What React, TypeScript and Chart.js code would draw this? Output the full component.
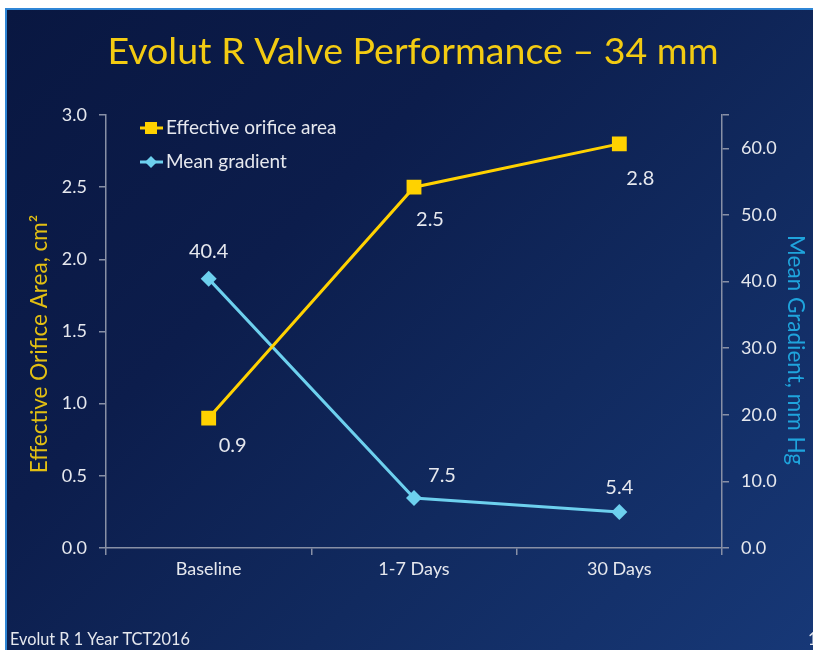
import React, { useEffect, useRef } from 'react';
import { Chart, registerables } from 'chart.js';

Chart.register(...registerables);

const titleText = 'Evolut R Valve Performance – 34 mm';
const footerText = 'Evolut R 1 Year TCT2016';
const categories = ['Baseline', '1-7 Days', '30 Days'];
const seriesNames = ['Effective orifice area', 'Mean gradient'];
const eoaValues = [0.9, 2.5, 2.8];
const gradientValues = [40.4, 7.5, 5.4];
const eoaLabels = ['0.9', '2.5', '2.8'];
const gradientLabels = ['40.4', '7.5', '5.4'];
const leftAxisTitle = 'Effective Orifice Area, cm²';
const rightAxisTitle = 'Mean Gradient, mm Hg';

const FONT = 'Lato, "Open Sans", sans-serif';
const YELLOW = '#ffd200';
const CYAN = '#6dd0ee';
const TITLE_YELLOW = '#f3cb12';
const AXIS_YELLOW = '#e2bf12';
const AXIS_CYAN = '#1fa4dc';
const TEXT = '#e6e8ee';
const AXIS_LINE = '#8890a6';

// label placement offsets (style only)
const eoaLabelOffsets = [[24, 27], [16, 32], [21, 35]];
const gradLabelOffsets = [[0, -27], [28, -22], [0, -24]];

const overlayPlugin = {
  id: 'overlay',
  afterDatasetsDraw(chart: any) {
    const ctx = chart.ctx;
    ctx.save();
    const sets = [
      { labels: eoaLabels, offs: eoaLabelOffsets },
      { labels: gradientLabels, offs: gradLabelOffsets },
    ];
    ctx.font = `20px ${FONT}`;
    ctx.fillStyle = TEXT;
    ctx.textAlign = 'center';
    ctx.textBaseline = 'middle';
    sets.forEach((s, di) => {
      const meta = chart.getDatasetMeta(di);
      meta.data.forEach((pt: any, i: number) => {
        ctx.fillText(s.labels[i], pt.x + s.offs[i][0], pt.y + s.offs[i][1]);
      });
    });
    ctx.restore();
  },
  afterDraw(chart: any) {
    const ctx = chart.ctx;
    ctx.save();
    // title
    ctx.font = `37.5px ${FONT}`;
    ctx.fillStyle = TITLE_YELLOW;
    ctx.textAlign = 'center';
    ctx.textBaseline = 'middle';
    ctx.fillText(titleText, 413, 52);
    // axis titles
    ctx.font = `22.5px ${FONT}`;
    ctx.save();
    ctx.translate(40, 344);
    ctx.rotate(-Math.PI / 2);
    ctx.fillStyle = AXIS_YELLOW;
    ctx.fillText(leftAxisTitle, 0, 0);
    ctx.restore();
    ctx.save();
    ctx.translate(795, 350);
    ctx.rotate(Math.PI / 2);
    ctx.fillStyle = AXIS_CYAN;
    ctx.fillText(rightAxisTitle, 0, 0);
    ctx.restore();
    // legend
    const items = [
      { name: seriesNames[0], color: YELLOW, style: 'rect', y: 128 },
      { name: seriesNames[1], color: CYAN, style: 'rectRot', y: 162 },
    ];
    items.forEach((it) => {
      ctx.strokeStyle = it.color;
      ctx.lineWidth = 3;
      ctx.beginPath();
      ctx.moveTo(140, it.y);
      ctx.lineTo(163, it.y);
      ctx.stroke();
      ctx.fillStyle = it.color;
      if (it.style === 'rect') {
        ctx.fillRect(151 - 6, it.y - 6, 12, 12);
      } else {
        ctx.beginPath();
        ctx.moveTo(151, it.y - 6);
        ctx.lineTo(157, it.y);
        ctx.lineTo(151, it.y + 6);
        ctx.lineTo(145, it.y);
        ctx.closePath();
        ctx.fill();
      }
      ctx.font = `19px ${FONT}`;
      ctx.fillStyle = TEXT;
      ctx.textAlign = 'left';
      ctx.textBaseline = 'middle';
      ctx.fillText(it.name, 166, it.y);
    });
    // footer
    ctx.font = `16.3px ${FONT}`;
    ctx.fillStyle = TEXT;
    ctx.textAlign = 'left';
    ctx.textBaseline = 'middle';
    ctx.fillText(footerText, 10, 640);
    ctx.fillText('1', 808, 640);
    ctx.restore();
  },
};

export default function App() {
  const ref = useRef<HTMLCanvasElement>(null);
  useEffect(() => {
    document.body.style.margin = '0';
    const canvas = ref.current!;
    const tickGrid = {
      display: true,
      drawOnChartArea: false,
      drawTicks: true,
      tickLength: 7,
      color: AXIS_LINE,
      lineWidth: 1.5,
    };
    const chart = new Chart(canvas, {
      type: 'line',
      data: {
        labels: categories,
        datasets: [
          {
            label: seriesNames[0],
            data: eoaValues,
            yAxisID: 'y',
            borderColor: YELLOW,
            backgroundColor: YELLOW,
            borderWidth: 3,
            pointStyle: 'rect',
            pointRadius: 10.5,
            pointBorderWidth: 0,
            pointBackgroundColor: YELLOW,
          },
          {
            label: seriesNames[1],
            data: gradientValues,
            yAxisID: 'y1',
            borderColor: CYAN,
            backgroundColor: CYAN,
            borderWidth: 3,
            pointStyle: 'rectRot',
            pointRadius: 8,
            pointBorderWidth: 0,
            pointBackgroundColor: CYAN,
          },
        ],
      },
      options: {
        responsive: false,
        animation: false,
        layout: { padding: { left: 20, right: 0, top: 115, bottom: 62 } },
        plugins: {
          legend: { display: false },
          tooltip: { enabled: false },
          title: { display: false },
        },
        scales: {
          x: {
            offset: true,
            grid: { ...tickGrid, offset: true },
            border: { display: true, color: AXIS_LINE, width: 1.5 },
            ticks: { color: TEXT, font: { family: FONT, size: 18 }, padding: 3 },
            afterFit: (s: any) => { s.height = 40; },
          },
          y: {
            position: 'left',
            min: 0,
            max: 3,
            ticks: {
              stepSize: 0.5,
              color: TEXT,
              font: { family: FONT, size: 18 },
              padding: 12,
              callback: (v: any) => Number(v).toFixed(1),
            },
            grid: tickGrid,
            border: { display: true, color: AXIS_LINE, width: 1.5 },
            afterFit: (s: any) => { s.width = 86; },
          },
          y1: {
            position: 'right',
            min: 0,
            max: 65,
            ticks: {
              stepSize: 10,
              color: TEXT,
              font: { family: FONT, size: 18 },
              padding: 12,
              callback: (v: any) => (Number(v) % 10 === 0 ? Number(v).toFixed(1) : ''),
            },
            grid: tickGrid,
            border: { display: true, color: AXIS_LINE, width: 1.5 },
            afterFit: (s: any) => { s.width = 91; },
          },
        },
      },
      plugins: [overlayPlugin],
    } as any);
    return () => chart.destroy();
  }, []);

  return (
    <div style={{ position: 'relative', width: 813, height: 650, background: '#ffffff', overflow: 'hidden' }}>
      <div
        style={{
          position: 'absolute',
          left: 5,
          top: 8,
          width: 808,
          height: 642,
          boxSizing: 'border-box',
          borderLeft: '2px solid #2f86d6',
          borderTop: '2px solid #2f86d6',
          background: 'linear-gradient(135deg, #091741 0%, #0c1d4c 35%, #112a5f 65%, #173877 100%)',
        }}
      />
      <canvas ref={ref} width={813} height={650} style={{ position: 'absolute', left: 0, top: 0, display: 'block' }} />
    </div>
  );
}
